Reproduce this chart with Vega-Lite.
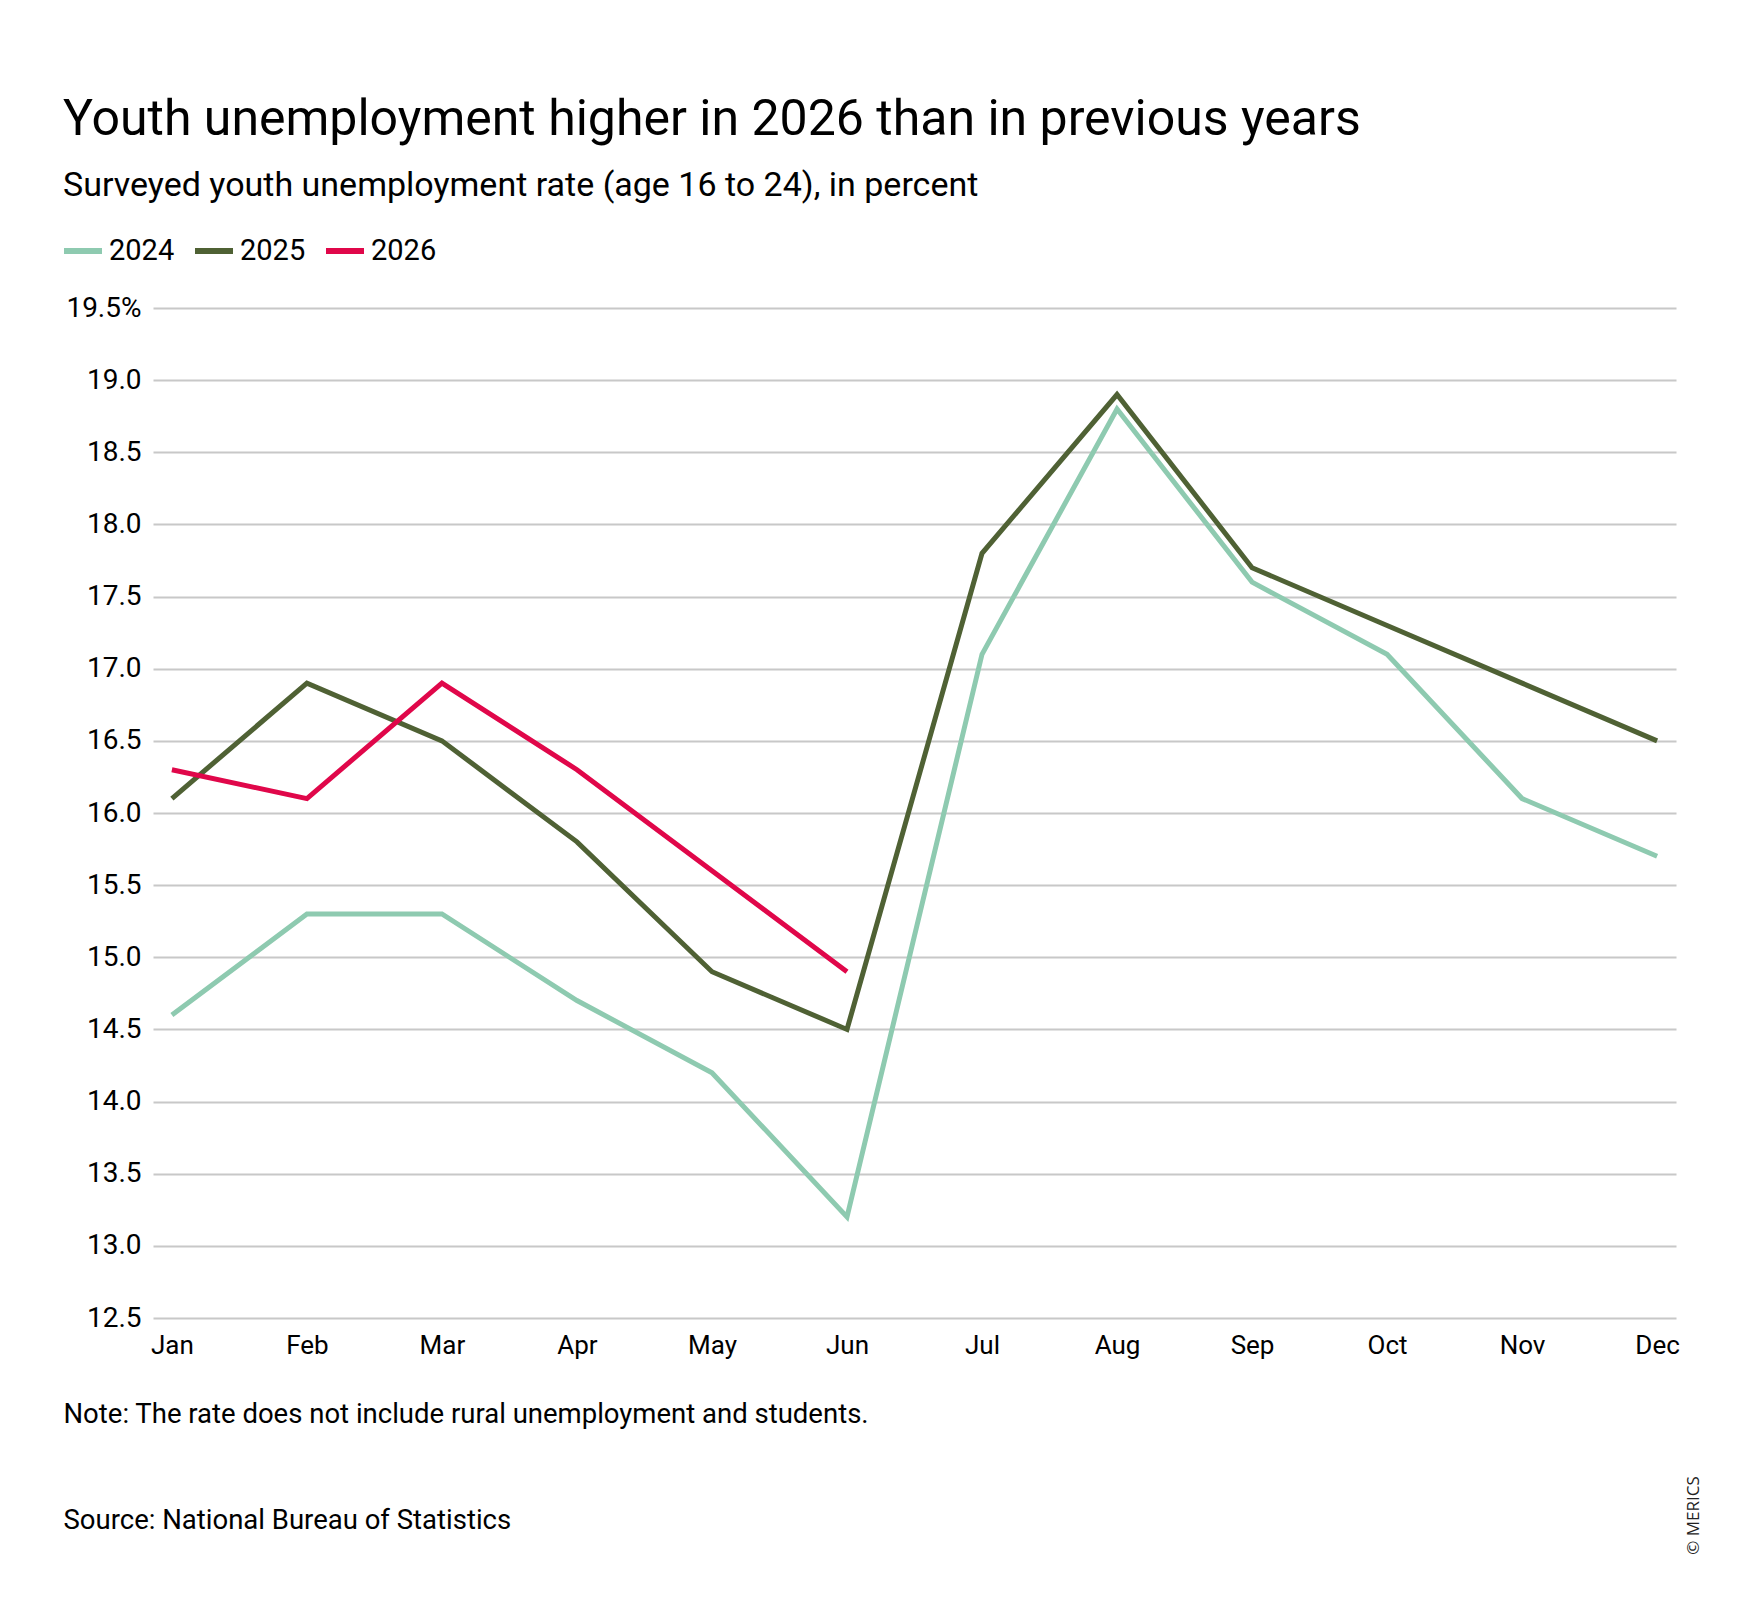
{
  "$schema": "https://vega.github.io/schema/vega-lite/v6.json",
  "autosize": {"type": "none"},
  "padding": {"left": 153, "top": 308, "right": 64, "bottom": 284},
  "width": 1523,
  "height": 1010,
  "background": "white",
  "title": {
    "text": "Youth unemployment higher in 2026 than in previous years",
    "subtitle": "Surveyed youth unemployment rate (age 16 to 24), in percent",
    "anchor": "start",
    "frame": "group",
    "dx": -90,
    "offset": 26,
    "font": "Roboto",
    "fontSize": 50,
    "fontWeight": "normal",
    "color": "#000000",
    "subtitleFont": "Roboto",
    "subtitleFontSize": 34,
    "subtitleColor": "#000000",
    "subtitlePadding": 24
  },
  "data": {
    "values": [
      {"month": "Jan", "year": "2024", "rate": 14.6},
      {"month": "Feb", "year": "2024", "rate": 15.3},
      {"month": "Mar", "year": "2024", "rate": 15.3},
      {"month": "Apr", "year": "2024", "rate": 14.7},
      {"month": "May", "year": "2024", "rate": 14.2},
      {"month": "Jun", "year": "2024", "rate": 13.2},
      {"month": "Jul", "year": "2024", "rate": 17.1},
      {"month": "Aug", "year": "2024", "rate": 18.8},
      {"month": "Sep", "year": "2024", "rate": 17.6},
      {"month": "Oct", "year": "2024", "rate": 17.1},
      {"month": "Nov", "year": "2024", "rate": 16.1},
      {"month": "Dec", "year": "2024", "rate": 15.7},
      {"month": "Jan", "year": "2025", "rate": 16.1},
      {"month": "Feb", "year": "2025", "rate": 16.9},
      {"month": "Mar", "year": "2025", "rate": 16.5},
      {"month": "Apr", "year": "2025", "rate": 15.8},
      {"month": "May", "year": "2025", "rate": 14.9},
      {"month": "Jun", "year": "2025", "rate": 14.5},
      {"month": "Jul", "year": "2025", "rate": 17.8},
      {"month": "Aug", "year": "2025", "rate": 18.9},
      {"month": "Sep", "year": "2025", "rate": 17.7},
      {"month": "Oct", "year": "2025", "rate": 17.3},
      {"month": "Nov", "year": "2025", "rate": 16.9},
      {"month": "Dec", "year": "2025", "rate": 16.5},
      {"month": "Jan", "year": "2026", "rate": 16.3},
      {"month": "Feb", "year": "2026", "rate": 16.1},
      {"month": "Mar", "year": "2026", "rate": 16.9},
      {"month": "Apr", "year": "2026", "rate": 16.3},
      {"month": "May", "year": "2026", "rate": 15.6},
      {"month": "Jun", "year": "2026", "rate": 14.9}
    ]
  },
  "encoding": {
    "x": {
      "field": "month",
      "type": "ordinal",
      "sort": null,
      "scale": {"type": "point", "padding": 0.14},
      "axis": {
        "title": ["Note: The rate does not include rural unemployment and students.", "Source: National Bureau of Statistics"],
        "titleFont": "Roboto",
        "titleFontSize": 27.5,
        "titleFontWeight": "normal",
        "titleColor": "#000000",
        "titleAnchor": "start",
        "titleAlign": "left",
        "titleBaseline": "alphabetic",
        "titleLineHeight": 106,
        "titleX": -90,
        "titleY": 104,
        "labelAngle": 0,
        "labelFont": "Roboto",
        "labelFontSize": 26,
        "labelColor": "#000000",
        "labelPadding": 14,
        "domain": false,
        "ticks": false,
        "grid": false
      }
    },
    "y": {
      "field": "rate",
      "type": "quantitative",
      "scale": {"domain": [12.5, 19.5], "nice": false, "zero": false}
    },
    "color": {
      "field": "year",
      "type": "nominal",
      "scale": {"domain": ["2024", "2025", "2026"], "range": ["#8ecab0", "#4f6134", "#e0074a"]},
      "legend": {
        "title": null,
        "orient": "none",
        "direction": "horizontal",
        "legendX": -92,
        "legendY": -79,
        "symbolType": "stroke",
        "symbolStrokeWidth": 6,
        "symbolSize": 1444,
        "labelFont": "Roboto",
        "labelFontSize": 29,
        "labelColor": "#000000",
        "labelOffset": 4,
        "columnPadding": 8
      }
    }
  },
  "layer": [
    {
      "transform": [{"filter": "datum.year != '2026'"}],
      "mark": {"type": "line", "strokeWidth": 5},
      "encoding": {
        "y": {
          "field": "rate",
          "type": "quantitative",
          "axis": {
            "title": null,
            "values": [12.5, 13, 13.5, 14, 14.5, 15, 15.5, 16, 16.5, 17, 17.5, 18, 18.5, 19, 19.5],
            "format": ".1f",
            "labelExpr": "datum.value == 19.5 ? datum.label + '%' : datum.label",
            "labelFont": "Roboto",
            "labelFontSize": 28,
            "labelColor": "#000000",
            "labelPadding": 12,
            "domain": false,
            "ticks": false,
            "grid": true,
            "gridColor": "#c8c8c8",
            "gridWidth": 2
          }
        }
      }
    },
    {
      "transform": [{"filter": "datum.year == '2026'"}],
      "mark": {"type": "line", "strokeWidth": 5},
      "encoding": {
        "y": {
          "field": "rate",
          "type": "quantitative",
          "axis": {
            "orient": "right",
            "title": "© MERICS",
            "titleFont": "Open Sans",
            "titleFontSize": 17,
            "titleFontWeight": "normal",
            "titleColor": "#222222",
            "titleAngle": 270,
            "titleAlign": "center",
            "titleBaseline": "middle",
            "titleX": 17,
            "titleY": 1207,
            "labels": false,
            "domain": false,
            "ticks": false,
            "grid": false
          }
        }
      }
    }
  ],
  "resolve": {"axis": {"y": "independent"}},
  "config": {
    "view": {"stroke": null}
  }
}
